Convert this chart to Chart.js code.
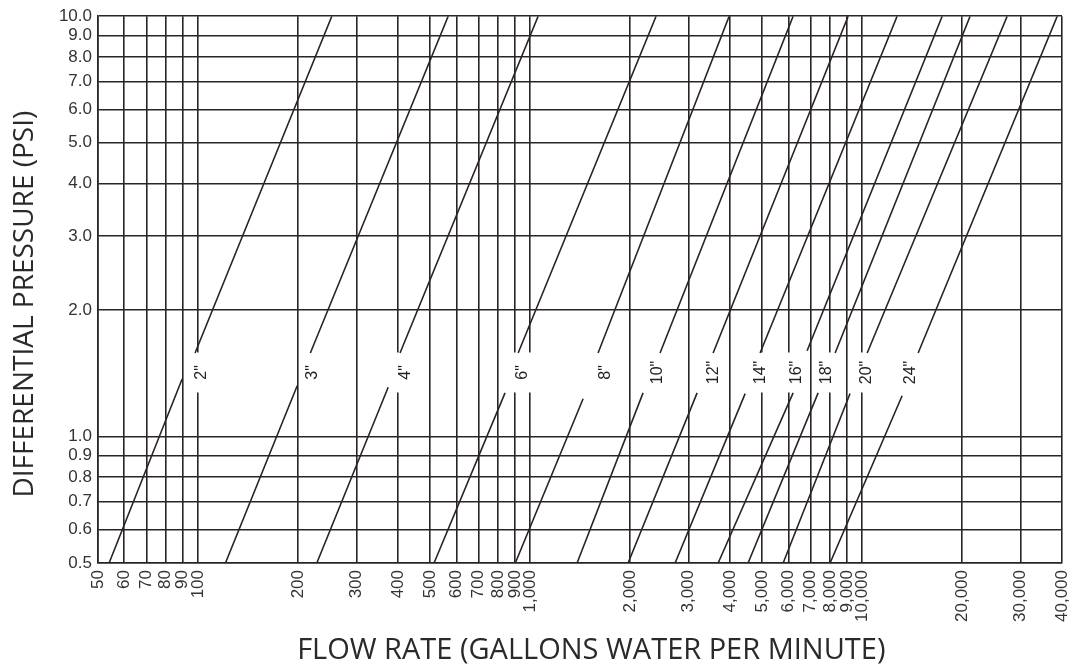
<!DOCTYPE html>
<html>
<head>
<meta charset="utf-8">
<script src="https://cdn.jsdelivr.net/npm/chart.js@4/dist/chart.umd.min.js"></script>
<style>
  body { margin: 0; background: #fff; }
  #wrap { width: 1074px; height: 668px; }
</style>
</head>
<body>
<div id="wrap"><canvas id="flowChart"></canvas></div>
<script>
// pipe sizes, one line each
const sizes = ['2"', '3"', '4"', '6"', '8"', '10"', '12"', '14"', '16"', '18"', '20"', '24"'];
// flow (gpm) where each line starts at 0.5 psi
const flowAtMin = [54, 121, 228, 514, 903, 1386, 1974, 2735, 3686, 4536, 5785, 8010];
// end of lower segment (below the label)
const breakLowFlow = [89.6, 199, 374, 841, 1445, 2190, 3186, 4445, 6200, 7374, 9200, 13200];
const breakLowPsi = [1.37, 1.32, 1.31, 1.27, 1.23, 1.27, 1.27, 1.265, 1.27, 1.27, 1.265, 1.25];
// start of upper segment (above the label)
const breakHighFlow = [98, 218, 406, 921, 1603, 2464, 3560, 4930, 6830, 8296, 10360, 14750];
const breakHighPsi = [1.58, 1.58, 1.58, 1.58, 1.58, 1.58, 1.58, 1.58, 1.60, 1.58, 1.58, 1.58];
// flow where each line reaches 10 psi
const flowAtTop = [253, 567, 1058, 2397, 3979, 6200, 9080, 12750, 17430, 21150, 27350, 38700];
// label anchors
const labelFlow = [101.5, 220.6, 420, 946, 1683, 2413, 3536, 4930, 6290, 7740, 10220, 13950];
const labelPsi = 1.42;

const xTicks = [50, 60, 70, 80, 90, 100, 200, 300, 400, 500, 600, 700, 800, 900, 1000,
  2000, 3000, 4000, 5000, 6000, 7000, 8000, 9000, 10000, 20000, 30000, 40000];
const yTicks = [0.5, 0.6, 0.7, 0.8, 0.9, 1.0, 2.0, 3.0, 4.0, 5.0, 6.0, 7.0, 8.0, 9.0, 10.0];

const ink = '#2b2424';

const datasets = sizes.map((s, i) => ({
  label: s,
  data: [
    { x: flowAtMin[i], y: 0.5 },
    { x: breakLowFlow[i], y: breakLowPsi[i] },
    { x: labelFlow[i], y: null },
    { x: breakHighFlow[i], y: breakHighPsi[i] },
    { x: flowAtTop[i], y: 10 }
  ],
  borderColor: ink,
  borderWidth: 1.6,
  pointRadius: 0,
  tension: 0,
  spanGaps: false
}));

const sizeLabels = {
  id: 'sizeLabels',
  beforeDatasetsDraw(chart) {
    const { ctx, scales: { x, y } } = chart;
    ctx.save();
    ctx.fillStyle = '#fff';
    labelFlow.forEach(f => {
      const px = x.getPixelForValue(f), py = y.getPixelForValue(labelPsi);
      ctx.fillRect(px - 11, py - 20, 22, 40);
    });
    ctx.restore();
  },
  afterDatasetsDraw(chart) {
    const { ctx, scales: { x, y } } = chart;
    ctx.save();
    ctx.font = '16px "Liberation Sans", Arial, sans-serif';
    ctx.fillStyle = '#222';
    ctx.textAlign = 'center';
    ctx.textBaseline = 'middle';
    sizes.forEach((s, i) => {
      const px = x.getPixelForValue(labelFlow[i]), py = y.getPixelForValue(labelPsi);
      ctx.save();
      ctx.translate(px, py);
      ctx.rotate(-Math.PI / 2);
      ctx.fillText(s, 0, 1);
      ctx.restore();
    });
    ctx.restore();
  }
};

new Chart(document.getElementById('flowChart'), {
  type: 'line',
  data: { datasets },
  plugins: [sizeLabels],
  options: {
    responsive: true,
    maintainAspectRatio: false,
    animation: false,
    layout: { padding: { top: 14, right: 12, left: 0, bottom: 0 } },
    plugins: {
      legend: { display: false },
      tooltip: { enabled: false }
    },
    scales: {
      x: {
        type: 'logarithmic',
        min: 50,
        max: 40000,
        afterBuildTicks: s => { s.ticks = xTicks.map(v => ({ value: v })); },
        afterFit: s => { s.height = 105; s.paddingLeft = 0; s.paddingRight = 0; },
        grid: { color: ink, lineWidth: 1.6, drawTicks: false },
        border: { color: ink, width: 1.6 },
        ticks: {
          autoSkip: false,
          minRotation: 90,
          maxRotation: 90,
          padding: 7,
          color: '#333',
          font: { family: '"Liberation Sans", Arial, sans-serif', size: 17 },
          callback: v => Number(v).toLocaleString('en-US')
        },
        title: {
          display: true,
          text: '   FLOW RATE (GALLONS WATER PER MINUTE)',
          color: '#2a2a2a',
          font: { family: '"Liberation Sans Narrow", "Open Sans", sans-serif', size: 29 },
          padding: { top: 0, bottom: 0 }
        }
      },
      y: {
        type: 'logarithmic',
        min: 0.5,
        max: 10,
        afterBuildTicks: s => { s.ticks = yTicks.map(v => ({ value: v })); },
        afterFit: s => { s.width = 98; },
        grid: { color: ink, lineWidth: 1.6, drawTicks: false },
        border: { color: ink, width: 1.6 },
        ticks: {
          autoSkip: false,
          padding: 6,
          color: '#333',
          font: { family: '"Liberation Sans", Arial, sans-serif', size: 17 },
          callback: v => Number(v).toFixed(1)
        },
        title: {
          display: true,
          text: 'DIFFERENTIAL PRESSURE (PSI)    ',
          color: '#2a2a2a',
          font: { family: '"Liberation Sans Narrow", "Open Sans", sans-serif', size: 28 },
          padding: { top: 8, bottom: 0 }
        }
      }
    }
  }
});
</script>
</body>
</html>
